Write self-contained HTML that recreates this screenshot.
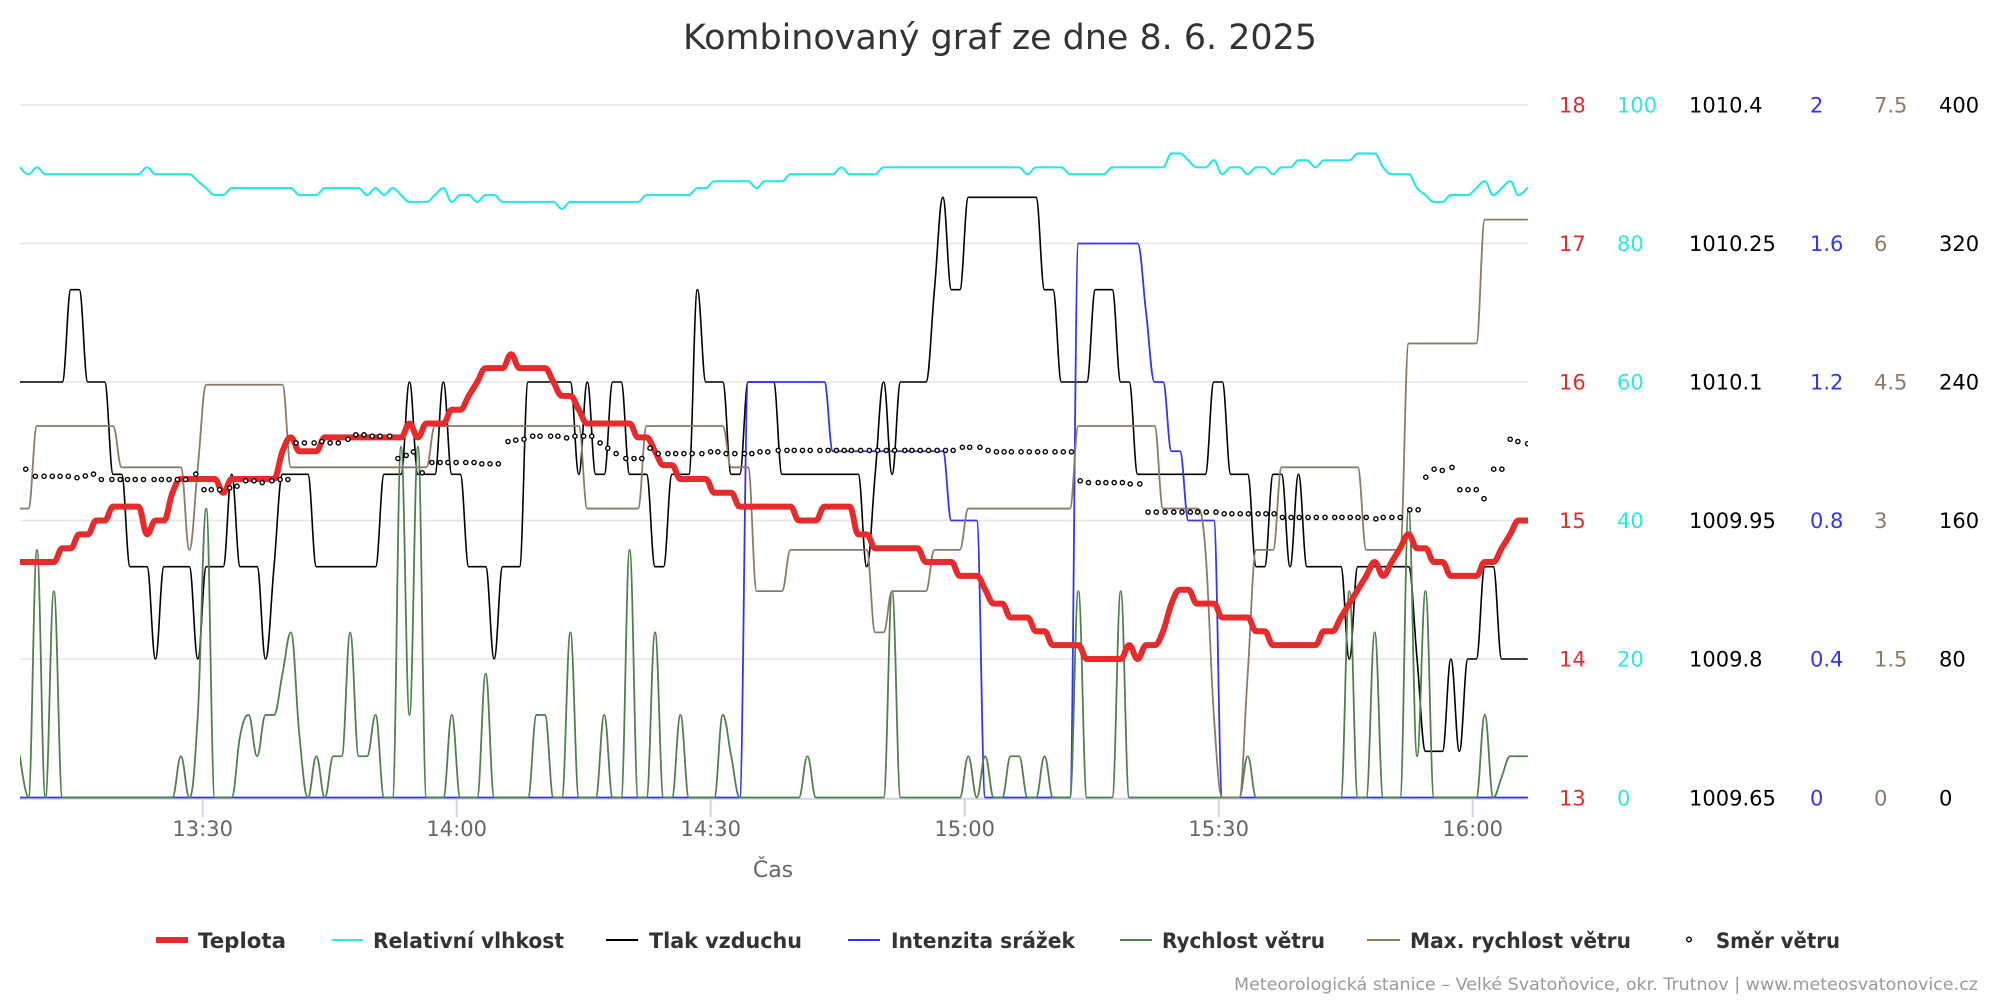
<!DOCTYPE html>
<html><head><meta charset="utf-8">
<style>html,body{margin:0;padding:0;background:#fff;}svg{display:block;}</style>
</head>
<body>
<svg id="c" xmlns="http://www.w3.org/2000/svg" width="2000" height="1000" viewBox="0 0 2000 1000">
<rect width="2000" height="1000" fill="#fff"/>
<defs><clipPath id="pc"><rect x="20" y="88" width="1508" height="714"/></clipPath></defs>

<text x="1000" y="49" text-anchor="middle" font-family="DejaVu Sans, sans-serif" font-size="35" fill="#333" textLength="634" lengthAdjust="spacingAndGlyphs">Kombinovaný graf ze dne 8. 6. 2025</text>

<g stroke="#e6e6e6" stroke-width="1.5">
<line x1="20" x2="1528" y1="105" y2="105"/>
<line x1="20" x2="1528" y1="243.5" y2="243.5"/>
<line x1="20" x2="1528" y1="382" y2="382"/>
<line x1="20" x2="1528" y1="520.5" y2="520.5"/>
<line x1="20" x2="1528" y1="659" y2="659"/>
</g>
<line x1="20" x2="1528" y1="798.7" y2="798.7" stroke="#ccd6eb" stroke-width="2"/>
<g stroke="#ccd6eb" stroke-width="2">
<line x1="202.7" x2="202.7" y1="799" y2="817"/>
<line x1="456.7" x2="456.7" y1="799" y2="817"/>
<line x1="710.7" x2="710.7" y1="799" y2="817"/>
<line x1="964.7" x2="964.7" y1="799" y2="817"/>
<line x1="1218.7" x2="1218.7" y1="799" y2="817"/>
<line x1="1472.7" x2="1472.7" y1="799" y2="817"/>
</g>
<g font-family="DejaVu Sans, sans-serif" font-size="21" fill="#666" text-anchor="middle">
<text x="202.7" y="836">13:30</text>
<text x="456.7" y="836">14:00</text>
<text x="710.7" y="836">14:30</text>
<text x="964.7" y="836">15:00</text>
<text x="1218.7" y="836">15:30</text>
<text x="1472.7" y="836">16:00</text>
<text x="773" y="877" font-size="22">Čas</text>
</g>

<g font-family="DejaVu Sans, sans-serif" font-size="21">
<g fill="#e52b2b">
<text x="1559" y="112.7">18</text><text x="1559" y="251.2">17</text><text x="1559" y="389.7">16</text><text x="1559" y="528.2">15</text><text x="1559" y="666.7">14</text><text x="1559" y="805.7">13</text>
</g>
<g fill="#2ee6e6">
<text x="1617" y="112.7">100</text><text x="1617" y="251.2">80</text><text x="1617" y="389.7">60</text><text x="1617" y="528.2">40</text><text x="1617" y="666.7">20</text><text x="1617" y="805.7">0</text>
</g>
<g fill="#000">
<text x="1689" y="112.7">1010.4</text><text x="1689" y="251.2">1010.25</text><text x="1689" y="389.7">1010.1</text><text x="1689" y="528.2">1009.95</text><text x="1689" y="666.7">1009.8</text><text x="1689" y="805.7">1009.65</text>
</g>
<g fill="#3535f0">
<text x="1810" y="112.7">2</text><text x="1810" y="251.2">1.6</text><text x="1810" y="389.7">1.2</text><text x="1810" y="528.2">0.8</text><text x="1810" y="666.7">0.4</text><text x="1810" y="805.7">0</text>
</g>
<g fill="#8c7a68">
<text x="1874" y="112.7">7.5</text><text x="1874" y="251.2">6</text><text x="1874" y="389.7">4.5</text><text x="1874" y="528.2">3</text><text x="1874" y="666.7">1.5</text><text x="1874" y="805.7">0</text>
</g>
<g fill="#000">
<text x="1939" y="112.7">400</text><text x="1939" y="251.2">320</text><text x="1939" y="389.7">240</text><text x="1939" y="528.2">160</text><text x="1939" y="666.7">80</text><text x="1939" y="805.7">0</text>
</g>
</g>

<g id="series" clip-path="url(#pc)" fill="none" stroke-linejoin="round" stroke-linecap="round"></g>
<g id="dots" clip-path="url(#pc)"></g>

<!-- legend -->
<g>
<line x1="156" x2="188" y1="940" y2="940" stroke="#e52b2b" stroke-width="6"/>
<line x1="332" x2="363" y1="940" y2="940" stroke="#2ee6e6" stroke-width="2"/>
<line x1="606" x2="638" y1="940" y2="940" stroke="#000" stroke-width="2"/>
<line x1="848" x2="880" y1="940" y2="940" stroke="#3535f0" stroke-width="2"/>
<line x1="1120" x2="1152" y1="940" y2="940" stroke="#4e804e" stroke-width="2"/>
<line x1="1367" x2="1400" y1="940" y2="940" stroke="#8c7a68" stroke-width="2"/>
<circle cx="1689" cy="939.5" r="2.3" fill="#fff" stroke="#000" stroke-width="1.4"/>
</g>
<g font-family="DejaVu Sans, sans-serif" font-size="21" font-weight="bold" fill="#333" lengthAdjust="spacingAndGlyphs">
<text x="198" y="948" textLength="88" lengthAdjust="spacingAndGlyphs">Teplota</text>
<text x="373" y="948" textLength="191" lengthAdjust="spacingAndGlyphs">Relativní vlhkost</text>
<text x="649" y="948" textLength="153" lengthAdjust="spacingAndGlyphs">Tlak vzduchu</text>
<text x="891" y="948" textLength="184" lengthAdjust="spacingAndGlyphs">Intenzita srážek</text>
<text x="1162" y="948" textLength="163" lengthAdjust="spacingAndGlyphs">Rychlost větru</text>
<text x="1410" y="948" textLength="221" lengthAdjust="spacingAndGlyphs">Max. rychlost větru</text>
<text x="1716" y="948" textLength="124" lengthAdjust="spacingAndGlyphs">Směr větru</text>
</g>
<text x="1234" y="990" font-family="DejaVu Sans, sans-serif" font-size="17" fill="#999" textLength="744" lengthAdjust="spacingAndGlyphs">Meteorologická stanice – Velké Svatoňovice, okr. Trutnov | www.meteosvatonovice.cz</text>
</svg>

<script>
(function(){
var NS='http://www.w3.org/2000/svg';
var B=797.5,H=692.5,X0=20,DX=8.467;
function parse(s){var a=[];s.split(',').forEach(function(t){var kv=t.split(':');var r=kv[0].split('-');var p=+r[0],e=r.length>1?+r[1]:p;for(var i=p;i<=e;i++)a[i]=+kv[1];});return a;}
function f(v){return v.toFixed(2);}
function spline(P){
 var sm=1.5,den=2.5,n=P.length,L=[],R=[];
 for(var i=0;i<n;i++){
  var x=P[i][0],y=P[i][1];
  if(i===0||i===n-1){L[i]=[x,y];R[i]=[x,y];continue;}
  var lx=P[i-1][0],ly=P[i-1][1],nx=P[i+1][0],ny=P[i+1][1];
  var lcx=(sm*x+lx)/den,lcy=(sm*y+ly)/den,rcx=(sm*x+nx)/den,rcy=(sm*y+ny)/den;
  if(rcx!==lcx){var c=((rcy-lcy)*(rcx-x))/(rcx-lcx)+y-rcy;lcy+=c;rcy+=c;}
  if(lcy>Math.max(ly,y)){lcy=Math.max(ly,y);rcy=2*y-lcy;}else if(lcy<Math.min(ly,y)){lcy=Math.min(ly,y);rcy=2*y-lcy;}
  if(rcy>Math.max(ny,y)){rcy=Math.max(ny,y);lcy=2*y-rcy;}else if(rcy<Math.min(ny,y)){rcy=Math.min(ny,y);lcy=2*y-rcy;}
  L[i]=[lcx,lcy];R[i]=[rcx,rcy];
 }
 var d='M'+f(P[0][0])+' '+f(P[0][1]);
 for(var j=1;j<n;j++){d+='C'+f(R[j-1][0])+' '+f(R[j-1][1])+' '+f(L[j][0])+' '+f(L[j][1])+' '+f(P[j][0])+' '+f(P[j][1]);}
 return d;
}
var g=document.getElementById('series');
function add(str,fy,col,w){
 var a=parse(str),P=[];
 for(var i=0;i<a.length;i++){if(a[i]!==undefined)P.push([X0+i*DX,fy(a[i])]);}
 var p=document.createElementNS(NS,'path');
 p.setAttribute('d',spline(P));p.setAttribute('stroke',col);p.setAttribute('stroke-width',w);p.setAttribute('fill','none');
 g.appendChild(p);
}
var temp="0-4:14.7,5-6:14.8,7-8:14.9,9-10:15,11-14:15.1,15:14.9,16-17:15,18:15.2,19-23:15.3,24:15.2,25-30:15.3,31:15.5,32:15.6,33-35:15.5,36-45:15.6,46:15.7,47:15.6,48-50:15.7,51-52:15.8,53:15.9,54:16,55-57:16.1,58:16.2,59-62:16.1,63:16,64-65:15.9,66:15.8,67-72:15.7,73-74:15.6,75:15.5,76-77:15.4,78-81:15.3,82-84:15.2,85-91:15.1,92-94:15,95-98:15.1,99-100:14.9,101-106:14.8,107-110:14.7,111-113:14.6,114:14.5,115-116:14.4,117-119:14.3,120-121:14.2,122-125:14.1,126-130:14,131:14.1,132:14,133-134:14.1,135:14.2,136:14.4,137-138:14.5,139-141:14.4,142-145:14.3,146-147:14.2,148-153:14.1,154-155:14.2,156:14.3,157:14.4,158:14.5,159:14.6,160:14.7,161:14.6,162:14.7,163:14.8,164:14.9,165-166:14.8,167-168:14.7,169-172:14.6,173-174:14.7,175:14.8,176:14.9,177-178:15";
var rh="0:91,1:90,2:91,3-14:90,15:91,16-20:90,21:89,22:88,23-24:87,25-32:88,33-35:87,36-40:88,41:87,42:88,43:87,44:88,45:87,46-48:86,49:87,50:88,51:86,52-53:87,54:86,55-56:87,57-63:86,64:85,65-73:86,74-79:87,80-81:88,82-86:89,87:88,88-90:89,91-96:90,97:91,98-101:90,102-118:91,119:90,120-123:91,124-128:90,129-135:91,136-137:93,138:92,139-140:91,141:92,142:90,143-144:91,145:90,146-147:91,148:90,149-150:91,151-152:92,153:91,154-157:92,158-160:93,161:91,162-164:90,165:88,166:87,167-168:86,169-171:87,172:88,173:89,174:87,175:88,176:89,177:87,178:88";
var pr="0-5:4,6-7:5,8-10:4,11-12:3,13-15:2,16:1,17-20:2,21:1,22-24:2,25:3,26-28:2,29:1,30:2,31-34:3,35-42:2,43-45:3,46:4,47-49:3,50:4,51-52:3,53-55:2,56:1,57-59:2,60-65:4,66:3,67:4,68-69:3,70-71:4,72-74:3,75-76:2,77-79:3,80:5,81-83:4,84-85:3,86-89:4,90-99:3,100:2,101:3,102:4,103:3,104-107:4,108:5,109:6,110-111:5,112-120:6,121-122:5,123-126:4,127-129:5,130-131:4,132-140:3,141-142:4,143-145:3,146-147:2,148-149:3,150:2,151:3,152-156:2,157:1,158-164:2,165:1,166-168:0,169:1,170:0,171-172:1,173-174:2,175-178:1";
var rain="0-85:0,86-95:1.2,96-109:1,110-113:0.8,114-124:0,125-132:1.6,133:1.4,134-135:1.2,136-137:1,138-141:0.8,142-178:0";
var wmax="0-1:7,2-11:9,12-19:8,20:6,21:8,22-31:10,32-48:8,49-66:9,67-73:7,74-83:9,84-86:8,87-90:5,91-100:6,101-102:4,103-107:5,108-111:6,112-124:7,125-134:9,135-139:7,140:6,141:2,142-144:0,145:3,146-148:6,149-158:8,159-163:6,164-172:11,173-178:14";
var wind="0:1,1:0,2:6,3:0,4:5,5-18:0,19:1,20:0,21:2,22:7,23-25:0,26:1.5,27:2,28:1,29-30:2,31:3,32:4,33:1.5,34:0,35:1,36:0,37-38:1,39:4,40-41:1,42:2,43-44:0,45:8.5,46:2,47:8.5,48-50:0,51:2,52-54:0,55:3,56-60:0,61-62:2,63-64:0,65:4,66-68:0,69:2,70-71:0,72:6,73-74:0,75:4,76-77:0,78:2,79-82:0,83:2,84:1,85-92:0,93:1,94-102:0,103:5,104-111:0,112:1,113:0,114:1,115-116:0,117-118:1,119-120:0,121:1,122-124:0,125:5,126-129:0,130:5,131-144:0,145:1,146-156:0,157:5,158-159:0,160:4,161-163:0,164:7,165:1,166:5,167-172:0,173:2,174:0,175:0.5,176-178:1";
var wy=function(m){return B-m*0.44704/7.5*H;};
add(rh,function(v){return B-v/100*H;},'#2ee6e6',2.2);
add(pr,function(l){return B-(0.05+0.1*l)/0.75*H;},'#000',1.6);
add(rain,function(v){return B-v/2*H;},'#3535f0',1.8);
add(wind,wy,'#4e804e',1.8);
add(wmax,wy,'#8c7a68',1.8);
add(temp,function(v){return B-(v-13)/5*H;},'#e52b2b',6);

var d11=[[22,827],[42,843],[60,843],[77,843],[93,843],[110,843],[128,846],[145,842],[162,838],[178,850],[200,850],[217,850],[232,850],[248,850],[265,850],[287,850],[302,850],[318,850],[335,850],[352,850],[373,838],[390,873],[405,873],[422,873],[443,869],[458,865],[476,853],[493,853],[510,857],[530,853],[547,850],[563,850],[580,768],[597,768],[617,768],[633,765],[650,768],[667,768],[687,760],[703,750],[720,750],[737,753],[753,753],[773,753],[790,803],[807,796],[822,788],[840,835],[860,812],[877,812],[893,812],[910,812],[930,812],[947,812],[963,815],[980,815],[997,815],[1017,765],[1033,762],[1050,760],[1068,753],[1083,753],[1105,753],[1120,753],[1138,757],[1155,753],[1173,753],[1190,753],[1207,768],[1223,780],[1240,792],[1260,803],[1277,803],[1293,803],[1310,780],[1327,792],[1347,792],[1363,792],[1380,792],[1397,792],[1417,792],[1435,788],[1450,788],[1467,792],[1485,792],[1505,792],[1520,792],[1537,788],[1553,788]];
var d12=[[17,785],[35,785],[50,785],[67,785],[83,785],[103,785],[120,785],[137,785],[153,785],[168,785],[187,785],[205,785],[222,785],[240,785],[257,785],[278,785],[293,785],[310,785],[327,785],[345,785],[362,785],[378,785],[397,778],[412,778],[433,778],[450,785],[467,788],[483,788],[498,788],[518,788],[535,788],[552,788],[568,788],[588,788],[605,788],[622,788],[640,853],[657,857],[677,857],[693,857],[710,857],[727,857],[743,860],[763,860],[780,923],[797,923],[815,923],[833,923],[850,923],[867,923],[882,923],[900,923],[920,923],[937,927],[953,927],[970,927],[987,927],[1007,927],[1023,927],[1040,927],[1057,935],[1075,935],[1092,935],[1110,935],[1127,935],[1145,935],[1165,935],[1180,935],[1197,935],[1213,935],[1230,935],[1250,938],[1265,935],[1283,935],[1300,935],[1320,918],[1337,918],[1353,845],[1370,827],[1387,830],[1407,823],[1423,873],[1440,873],[1457,873],[1473,893],[1493,827],[1510,827],[1527,760],[1543,765],[1563,770]];
var dg=document.getElementById('dots');
function dot(x,y){var c=document.createElementNS(NS,'circle');c.setAttribute('cx',x.toFixed(1));c.setAttribute('cy',y.toFixed(1));c.setAttribute('r','2.1');c.setAttribute('fill','#fff');c.setAttribute('stroke','#000');c.setAttribute('stroke-width','1.4');dg.appendChild(c);}
d11.forEach(function(p){dot(15+p[0]/2.063,100+p[1]/2.24);});
d12.forEach(function(p){dot(770+p[0]/2.063,100+p[1]/2.24);});
})();
</script>
</body></html>
